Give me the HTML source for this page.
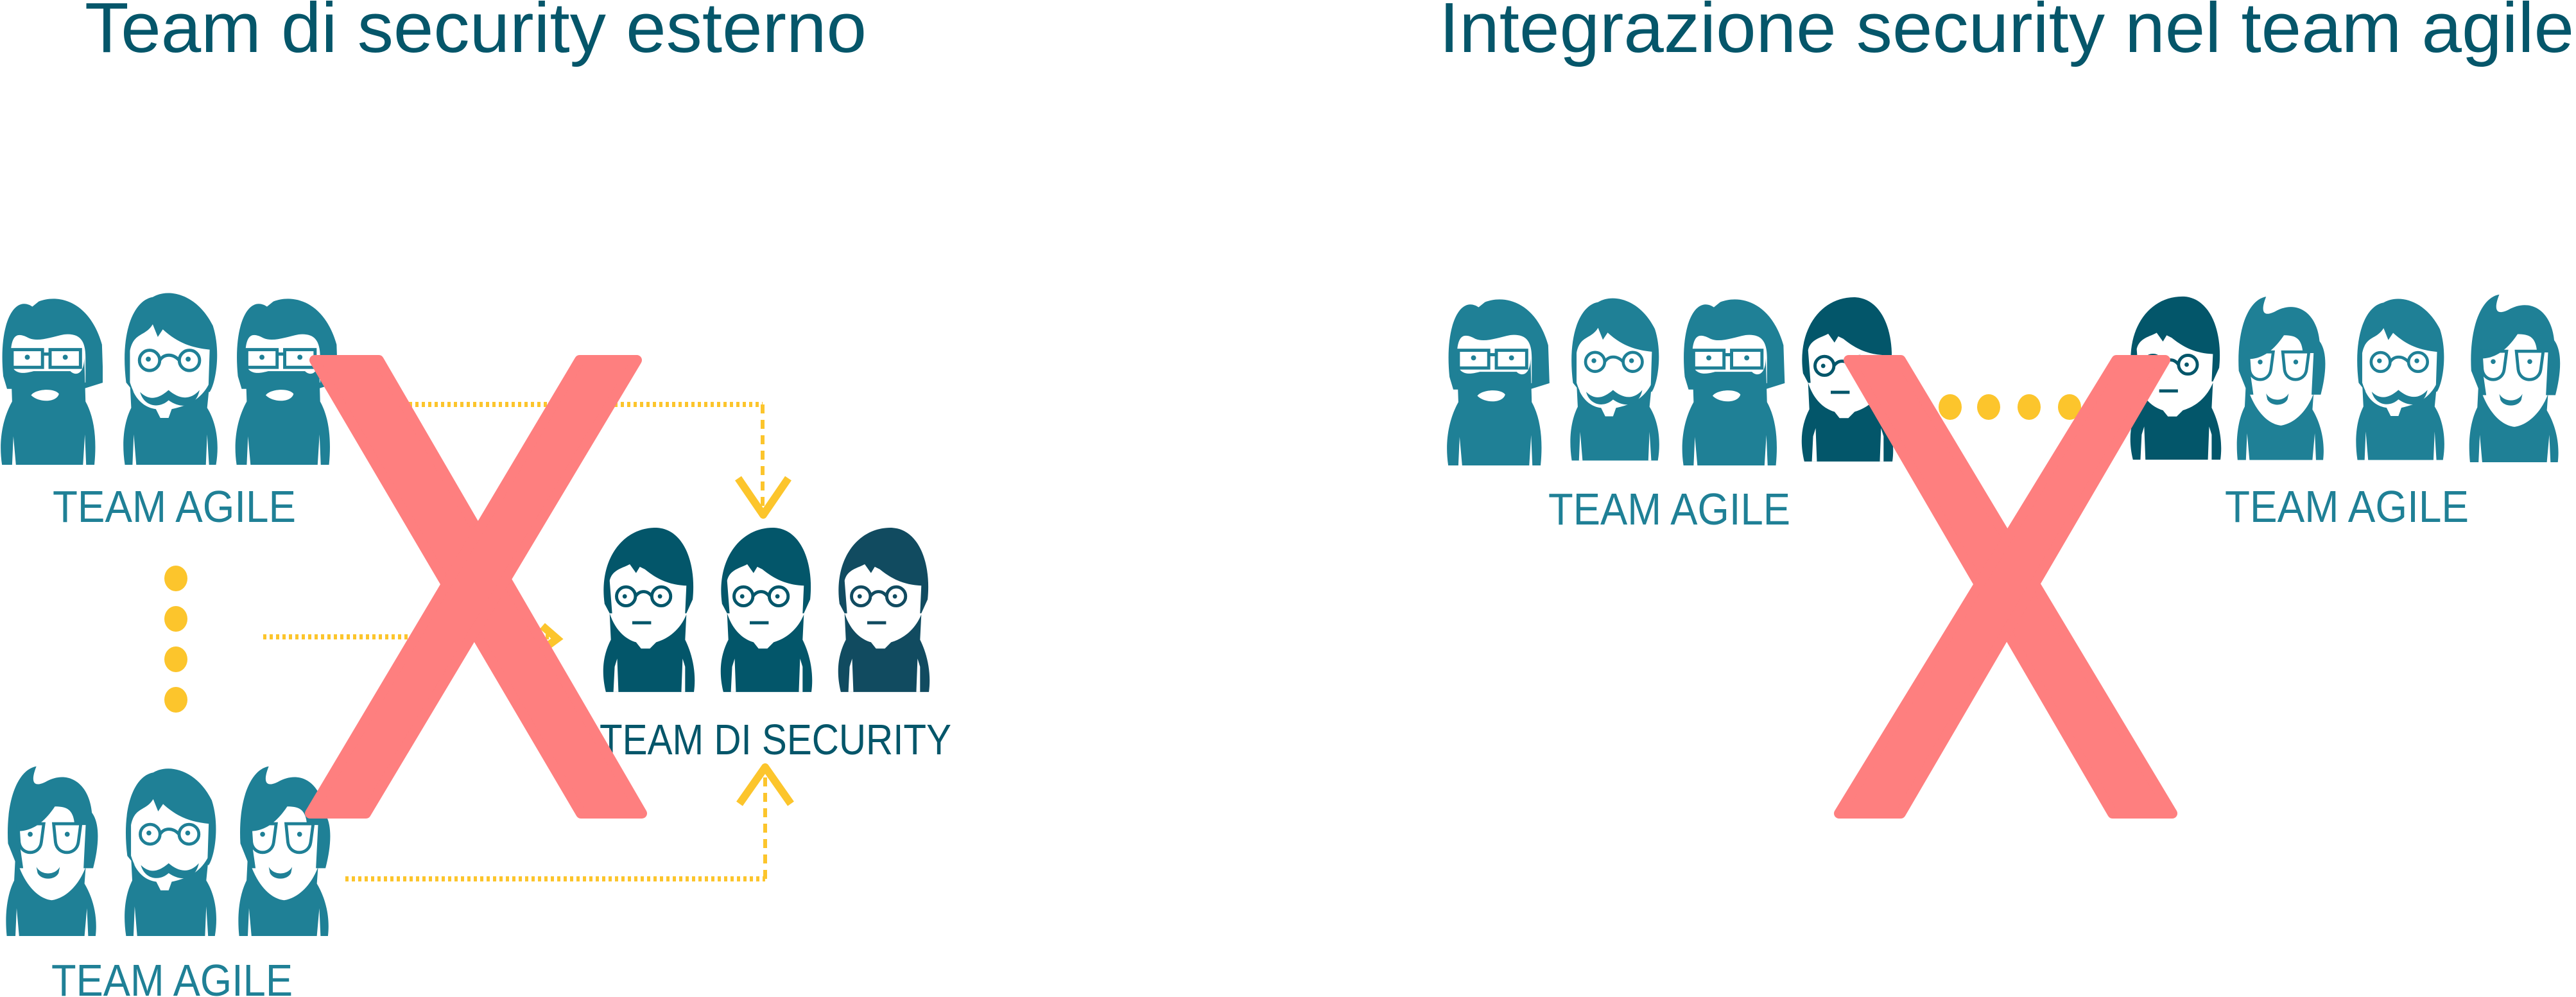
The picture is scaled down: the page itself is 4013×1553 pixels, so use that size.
<!DOCTYPE html>
<html><head><meta charset="utf-8"><style>
html,body{margin:0;padding:0;background:#fff;}
svg{display:block;}
text{font-family:"Liberation Sans",sans-serif;}
</style></head><body>
<svg width="4013" height="1553" viewBox="0 0 4013 1553" xmlns="http://www.w3.org/2000/svg">
<defs>
<symbol id="sec" viewBox="0 0 150 265">
 <path fill="currentColor" d="M6,125 C-4,55 35,2 90,4 C132,7 152,60 146,118 L136,140 L14,140 Z"/>
 <path fill="#fff" d="M14,88 C18,70 36,68 46,62 L56,76 L62,66 L70,70 C92,88 112,95 136,96 L134,140 L128,165 C118,182 102,188 90,188 L60,188 C42,184 26,168 18,140 Z"/>
 <path fill="currentColor" d="M8,265 C0,232 4,205 16,182 L14,140 C24,170 42,182 56,186 L64,196 L78,196 L88,186 C108,180 126,166 136,142 L134,182 C146,206 152,236 148,265 Z"/>
 <path fill="#fff" d="M20,265 L22,225 L26,212 L28,265 Z M128,265 L130,212 L134,225 L134,265 Z"/>
 <g fill="none" stroke="currentColor" stroke-width="5"><circle cx="40" cy="113" r="15"/><circle cx="96" cy="113" r="15"/><path d="M55,113 C62,103 74,103 81,113"/></g>
 <circle fill="currentColor" cx="38" cy="113" r="3.5"/><circle fill="currentColor" cx="94" cy="113" r="3.5"/>
 <path stroke="currentColor" stroke-width="5" d="M50,155 L80,155"/>
</symbol>
<symbol id="beard" viewBox="0 0 160 280">
 <path fill="currentColor" d="M4,140 C-4,60 20,10 50,30 L60,22 C90,10 140,20 160,90 L162,150 L130,160 L10,160 Z"/>
 <path fill="#fff" d="M16,100 C18,70 30,72 45,80 C60,86 80,78 100,74 C122,72 134,80 134,110 L134,150 L24,150 Z"/>
 <path fill="currentColor" d="M2,280 C-4,240 4,205 18,180 L16,120 C22,140 40,135 52,132 L110,132 C118,140 132,138 132,110 L134,180 C148,205 152,240 148,280 Z"/>
 <path fill="#fff" d="M48,170 C55,160 85,158 92,168 C88,182 60,182 48,170 Z"/>
 <path fill="#fff" d="M18,280 L20,235 L24,280 Z M130,280 L133,232 L135,280 Z"/>
 <g fill="none" stroke="currentColor" stroke-width="5"><rect x="18" y="98" width="48" height="28"/><rect x="78" y="98" width="48" height="28"/><path d="M66,105 L78,105"/></g>
 <circle fill="currentColor" cx="42" cy="110" r="4"/><circle fill="currentColor" cx="102" cy="110" r="4"/>
</symbol>
<symbol id="must" viewBox="0 0 160 280">
 <path fill="currentColor" d="M8,150 C-2,70 20,20 50,15 C75,0 120,10 145,60 C158,100 150,150 140,165 L20,165 Z"/>
 <path fill="#fff" d="M14,100 C20,70 38,78 50,58 L58,78 L66,66 C90,88 112,95 140,98 L138,160 C126,190 108,200 95,200 L60,200 C38,196 22,175 14,150 Z"/>
 <path fill="currentColor" d="M6,280 C0,240 6,210 16,190 L14,150 C22,180 40,190 55,192 L62,206 L75,206 L80,192 C108,186 128,175 140,150 L136,190 C150,212 156,245 150,280 Z"/>
 <path fill="currentColor" d="M30,165 C45,180 60,175 75,162 C90,175 108,180 124,162 C118,190 95,192 75,178 C60,192 36,188 30,165 Z"/>
 <path fill="#fff" d="M18,280 L20,232 L24,280 Z M134,280 L136,232 L139,280 Z"/>
 <g fill="none" stroke="currentColor" stroke-width="5"><circle cx="45" cy="115" r="16"/><circle cx="108" cy="115" r="16"/><path d="M61,115 C68,104 82,104 92,115"/></g>
 <circle fill="currentColor" cx="43" cy="113" r="4"/><circle fill="currentColor" cx="106" cy="113" r="4"/>
</symbol>
<symbol id="smile" viewBox="0 0 160 280">
 <path fill="currentColor" d="M4,130 C0,60 20,10 50,5 C40,30 45,40 65,30 C100,10 135,30 140,80 C155,100 150,140 142,170 L20,170 Z"/>
 <path fill="#fff" d="M20,110 C40,110 60,100 80,70 C100,70 110,75 112,100 L130,100 L128,140 L126,180 L80,220 L30,180 Z"/>
 <path fill="currentColor" d="M2,280 C-2,240 4,210 14,190 L16,150 C30,200 55,220 75,222 C100,218 120,195 130,168 L128,195 C140,215 150,245 146,280 Z"/>
 <path fill="currentColor" d="M50,168 C58,182 80,182 88,168 L86,178 C80,190 58,190 52,178 Z"/>
 <path fill="#fff" d="M16,280 L18,235 L22,280 Z M128,280 L132,235 L134,280 Z"/>
 <g fill="none" stroke="currentColor" stroke-width="5"><path d="M20,98 L62,98 L58,128 C55,150 25,150 22,128 Z"/><path d="M78,98 L122,98 L118,128 C115,150 84,150 81,128 Z"/></g>
 <circle fill="currentColor" cx="40" cy="115" r="4"/><circle fill="currentColor" cx="100" cy="115" r="4"/>
</symbol>
</defs>

<text x="132" y="81" font-size="110" fill="#05566a" textLength="1218" lengthAdjust="spacingAndGlyphs">Team di security esterno</text>
<text x="2242" y="81" font-size="110" fill="#05566a" textLength="1768" lengthAdjust="spacingAndGlyphs">Integrazione security nel team agile</text>

<g style="color:#1f8096">
 <use href="#beard" x="0" y="448" width="160" height="276"/>
 <use href="#must" x="184" y="448" width="167" height="276"/>
 <use href="#beard" x="363" y="448" width="165" height="276"/>
 <use href="#smile" x="8" y="1189" width="155" height="269"/>
 <use href="#must" x="190" y="1189" width="155" height="269"/>
 <use href="#smile" x="370" y="1189" width="155" height="269"/>
</g>
<text x="82" y="813" font-size="70" fill="#1f8096" textLength="379" lengthAdjust="spacingAndGlyphs">TEAM AGILE</text>
<text x="80" y="1551" font-size="70" fill="#1f8096" textLength="376" lengthAdjust="spacingAndGlyphs">TEAM AGILE</text>

<g fill="#fcc52c">
 <ellipse cx="274" cy="901" rx="18" ry="20"/><ellipse cx="274" cy="964" rx="18" ry="20"/>
 <ellipse cx="274" cy="1027" rx="18" ry="20"/><ellipse cx="274" cy="1090" rx="18" ry="20"/>
</g>

<use href="#sec" x="936" y="816" width="147" height="264" style="color:#03566a"/>
<use href="#sec" x="1119" y="816" width="147" height="264" style="color:#03566a"/>
<use href="#sec" x="1302" y="816" width="147" height="264" style="color:#114b60"/>
<text x="934" y="1175" font-size="67" fill="#05566a" textLength="548" lengthAdjust="spacingAndGlyphs">TEAM DI SECURITY</text>

<g fill="none" stroke="#fcc52c">
 <path d="M537,630 H1188" stroke-width="8" stroke-dasharray="5 5"/>
 <path d="M1188,630 V795" stroke-width="6" stroke-dasharray="14 10"/>
 <polyline points="1150,745 1189,802 1228,745" stroke-width="12" stroke-linejoin="round"/>
 <path d="M410,992 H860" stroke-width="8" stroke-dasharray="5 5"/>
 <polyline points="845,975 868,995 845,1012" stroke-width="12"/>
 <path d="M538,1369 H1192" stroke-width="8" stroke-dasharray="5 5"/>
 <path d="M1192,1369 V1200" stroke-width="6" stroke-dasharray="14 10"/>
 <polyline points="1152,1252 1192,1195 1232,1252" stroke-width="12" stroke-linejoin="round"/>
</g>

<g style="color:#1f8096">
 <use href="#beard" x="2249" y="449" width="168" height="276"/>
 <use href="#must" x="2443" y="449" width="149" height="276"/>
 <use href="#beard" x="2615" y="449" width="169" height="276"/>
 <use href="#smile" x="3484" y="449" width="148" height="276"/>
 <use href="#must" x="3667" y="449" width="148" height="276"/>
 <use href="#smile" x="3846" y="449" width="152" height="276"/>
</g>
<use href="#sec" x="2803" y="449" width="147" height="280" style="color:#03566a"/>
<use href="#sec" x="3315" y="449" width="146" height="276" style="color:#03566a"/>
<g fill="#fcc52c">
 <ellipse cx="3038" cy="634" rx="18" ry="20"/><ellipse cx="3098" cy="634" rx="18" ry="20"/>
 <ellipse cx="3161" cy="634" rx="18" ry="20"/><ellipse cx="3224" cy="634" rx="18" ry="20"/>
</g>
<text x="2412" y="817" font-size="70" fill="#1f8096" textLength="377" lengthAdjust="spacingAndGlyphs">TEAM AGILE</text>
<text x="3466" y="813" font-size="70" fill="#1f8096" textLength="380" lengthAdjust="spacingAndGlyphs">TEAM AGILE</text>

<g fill="#fe7f7f" stroke="#fe7f7f" stroke-width="16" stroke-linejoin="round">
 <polygon points="490,561 590,561 1000,1267 905,1267"/>
 <polygon points="903,561 992,561 570,1267 483,1267"/>
 <polygon points="2880,561 2961,561 3384,1267 3291,1267"/>
 <polygon points="3297,561 3373,561 2961,1267 2865,1267"/>
</g>
</svg>
</body></html>
